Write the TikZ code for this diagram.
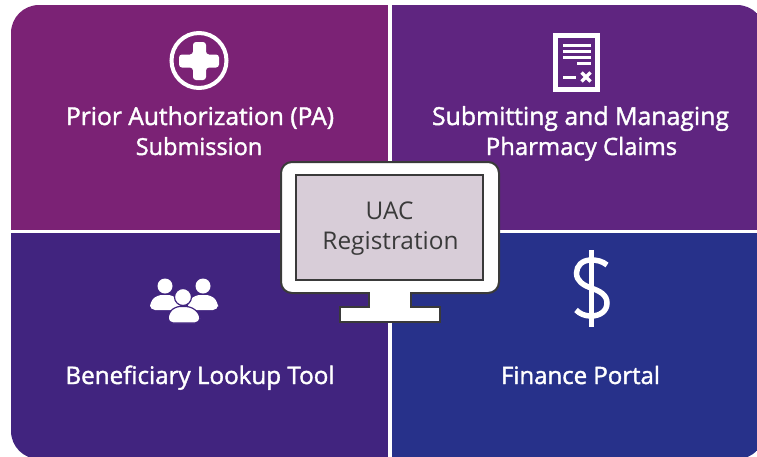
\documentclass[tikz,border=0pt]{standalone}
\usepackage{fontspec}
\setmainfont{Open Sans}
\newfontfamily\labelfont[FakeBold=1.6]{Open Sans}
\definecolor{tlc}{HTML}{7B2275}
\definecolor{trc}{HTML}{5F2580}
\definecolor{blc}{HTML}{41247F}
\definecolor{brc}{HTML}{27318A}
\definecolor{screenc}{HTML}{D8CDD8}
\definecolor{edgec}{HTML}{3A3A3A}
\tikzset{
  paneltext/.style={text=white,font=\labelfont\fontsize{#1}{30}\selectfont,align=center,inner sep=0pt,anchor=base},
  screentext/.style={text=edgec,font=\fontsize{24.4}{30}\selectfont,inner sep=0pt,anchor=base},
  iconline/.style={draw=white,line width=3pt},
  monitorpart/.style={draw=edgec,fill=white,line width=2pt},
}
\begin{document}
\begin{tikzpicture}[x=1pt,y=-1pt]
\useasboundingbox (0,0) rectangle (757,456);
\fill[white] (0,0) rectangle (757,456);
\begin{scope}
\clip[rounded corners=28pt] (11,5) rectangle (765,459);
\fill[tlc] (0,0) rectangle (388,230);
\fill[trc] (392,0) rectangle (765,230);
\fill[blc] (0,233) rectangle (388,460);
\fill[brc] (392,233) rectangle (765,460);
\end{scope}
% plus icon
\draw[white,line width=4pt] (199,60.5) circle (27.5);
\fill[white,rounded corners=3pt] (193,42) -- (206,42) -- (206,54.5) -- (219,54.5) -- (219,67.5) -- (206,67.5) -- (206,80) -- (193,80) -- (193,67.5) -- (179,67.5) -- (179,54.5) -- (193,54.5) -- cycle;
% document icon
\draw[white,line width=5pt] (555.5,35.5) rectangle (597.5,89.5);
\foreach \yy in {45.5,51.5,57.5} \draw[iconline] (563,\yy) -- (591,\yy);
\draw[iconline] (577,63) -- (591,63);
\draw[iconline] (563,77) -- (576,77);
\draw[white,line width=3.5pt] (581.5,72.5) -- (590.5,81.5) (590.5,72.5) -- (581.5,81.5);
% people icon
\fill[white] (165,286) circle (7.5) (203,286) circle (7.5);
\fill[white,rounded corners=5pt] (150,310) -- (150,302) -- (157,295) -- (173,295) -- (180,302) -- (180,310) -- cycle;
\fill[white,rounded corners=5pt] (188,310) -- (188,302) -- (195,295) -- (211,295) -- (218,302) -- (218,310) -- cycle;
\fill[white,draw=blc,line width=1.2pt] (183,297) circle (8.5);
\fill[white,draw=blc,line width=1.2pt,rounded corners=5pt] (168,323) -- (168,314) -- (175,306.5) -- (191,306.5) -- (200,314) -- (200,323) -- cycle;
% dollar icon
\draw[white,line width=5pt] (591,250) -- (591,327);
\draw[white,line width=5.5pt] (607,265) .. controls (602,261) and (597,260) .. (591,260)
  .. controls (582,260) and (576.5,266) .. (576.5,273)
  .. controls (576.5,281) and (583,285) .. (591,288)
  .. controls (600,291) and (607,295) .. (607,303)
  .. controls (607,311) and (600,316) .. (591,316)
  .. controls (585,316) and (580,314) .. (576,310);
% panel labels
\node[paneltext=24.6] (pa1) at (200,125) {Prior Authorization (PA)};
\node[paneltext=23.5] (pa2) at (199,155) {Submission};
\node[paneltext=24.8] (cl1) at (580.5,125) {Submitting and Managing};
\node[paneltext=23.9] (cl2) at (581.5,155) {Pharmacy Claims};
\node[paneltext=24.2] (be) at (200,384) {Beneficiary Lookup Tool};
\node[paneltext=24] (fi) at (580.5,384) {Finance Portal};
% monitor
\draw[monitorpart] (340,307) rectangle (440,322);
\fill[white] (369,290) rectangle (411,309);
\draw[edgec,line width=2pt] (369,293) -- (369,307) -- (340,307) (411,293) -- (411,307) -- (440,307);
\draw[monitorpart,rounded corners=11pt] (281,162) rectangle (499,293);
\fill[white] (370,290) rectangle (410,308);
\draw[draw=edgec,fill=screenc,line width=2pt] (296,175) rectangle (483,280);
\node[screentext] (uac) at (389.5,219) {UAC};
\node[screentext] (reg) at (390.5,249) {Registration};
\end{tikzpicture}
\end{document}
